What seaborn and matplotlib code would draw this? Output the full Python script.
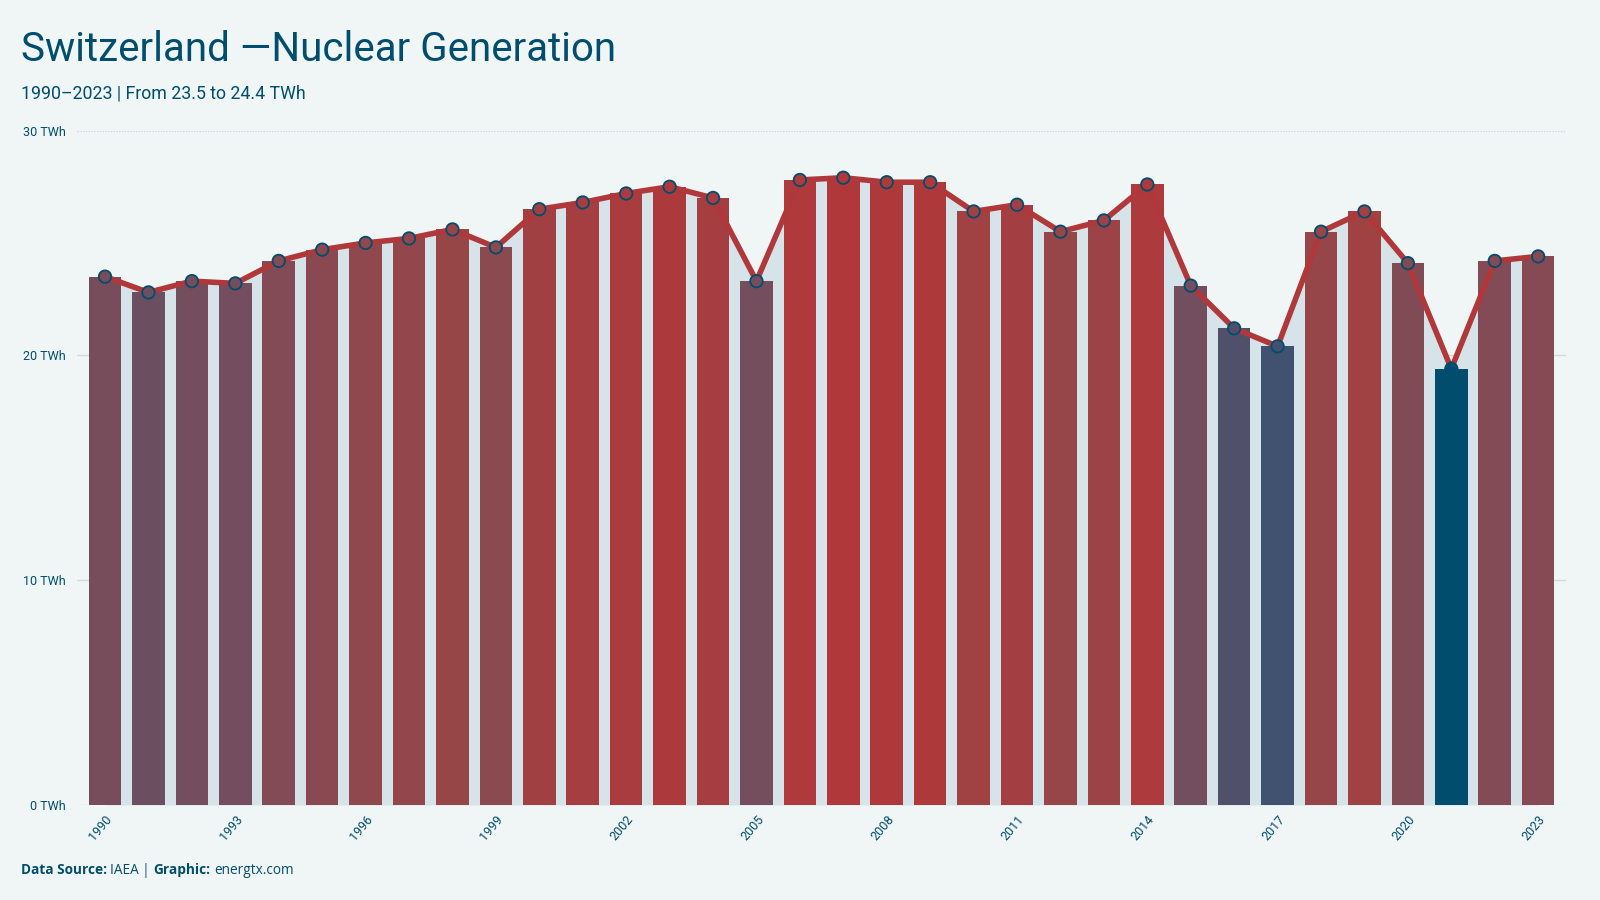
import numpy as np
import pandas as pd
import matplotlib
matplotlib.use("Agg")
import matplotlib.pyplot as plt
from matplotlib.colors import LinearSegmentedColormap, to_hex
import seaborn as sns

years = list(range(1990, 2024))
generation_twh = [23.5, 22.8, 23.3, 23.2, 24.2, 24.7, 25.0, 25.2, 25.6, 24.8,
                  26.5, 26.8, 27.2, 27.5, 27.0, 23.3, 27.8, 27.9, 27.7, 27.7,
                  26.4, 26.7, 25.5, 26.0, 27.6, 23.1, 21.2, 20.4, 25.5, 26.4,
                  24.1, 19.4, 24.2, 24.4]
tick_years = [1990, 1993, 1996, 1999, 2002, 2005, 2008, 2011, 2014, 2017, 2020, 2023]
y_ticks = [0, 10, 20, 30]
y_tick_labels = ["0 TWh", "10 TWh", "20 TWh", "30 TWh"]

BG = "#f0f5f5"
DARK = "#004d6e"
RED = "#b0383a"
FILL = "#d6e3e8"

sns.set_theme(style="white")
plt.rcParams["font.family"] = ["Roboto", "DejaVu Sans"]

cmap = LinearSegmentedColormap.from_list(
    "gen", [(0.0, DARK), (0.12, "#425170"), (0.45, "#744e5e"),
            (0.72, "#964649"), (1.0, RED)])
vals = np.array(generation_twh)
norm = (vals - vals.min()) / (vals.max() - vals.min())
colors = [to_hex(cmap(v)) for v in norm]

df = pd.DataFrame({"year": [str(y) for y in years], "twh": generation_twh})

fig = plt.figure(figsize=(16, 9), dpi=100, facecolor=BG)
ax = fig.add_axes([0.048, 0.1056, 0.931, 0.7494])
ax.set_facecolor(BG)

x = np.arange(len(years))
ax.fill_between(x, 0, vals, color=FILL, zorder=1, linewidth=0)
for yv in y_ticks:
    ax.axhline(yv, color="#cfdbe0", lw=1.0, zorder=0.5,
               ls=(0, (1, 1)) if yv in (0, 30) else "-")

sns.barplot(data=df, x="year", y="twh", hue="year", palette=colors,
            width=0.75, legend=False, ax=ax, zorder=2, saturation=1,
            linewidth=0, edgecolor="none")
ax.plot(x, vals, color=RED, lw=4.0, zorder=3, solid_capstyle="round")
ax.scatter(x, vals, s=80, c=colors, edgecolors=DARK, linewidths=1.3, zorder=4)

ax.set_xlim(-0.65, len(years) - 0.35)
ax.set_ylim(0, 30)
ax.set_yticks(y_ticks)
ax.set_yticklabels(y_tick_labels)
ax.set_xticks([years.index(y) for y in tick_years])
ax.set_xticklabels([str(y) for y in tick_years], rotation=50, ha="right",
                   rotation_mode="anchor")
ax.tick_params(axis="both", length=0, labelsize=9, colors=DARK, pad=8)
ax.tick_params(axis="x", pad=6)
ax.set_xlabel("")
ax.set_ylabel("")
for s in ax.spines.values():
    s.set_visible(False)

fig.text(0.013, 0.945, "Switzerland \u2014Nuclear Generation", fontsize=29,
         color=DARK, va="center", ha="left")
fig.text(0.013, 0.896, "1990\u20132023 | From 23.5 to 24.4 TWh", fontsize=12.8,
         color=DARK, va="center", ha="left")

foot_y = 0.033
fam = ["Open Sans", "DejaVu Sans"]
fs = 9.8
t1 = fig.text(0.013, foot_y, "Data Source:", fontsize=fs, fontweight="bold",
              color=DARK, va="center", family=fam)
fig.canvas.draw()
r = fig.canvas.get_renderer()
bb = t1.get_window_extent(r)
x2 = bb.x1 / fig.bbox.width + 0.002
t2 = fig.text(x2, foot_y, "IAEA |", fontsize=fs, color=DARK, va="center",
              family=fam)
bb = t2.get_window_extent(r)
x3 = bb.x1 / fig.bbox.width + 0.002
t3 = fig.text(x3, foot_y, "Graphic:", fontsize=fs, fontweight="bold",
              color=DARK, va="center", family=fam)
bb = t3.get_window_extent(r)
x4 = bb.x1 / fig.bbox.width + 0.003
fig.text(x4, foot_y, "energtx.com", fontsize=fs, color=DARK, va="center",
         family=fam)

fig.savefig("out.png", dpi=100, facecolor=BG)
